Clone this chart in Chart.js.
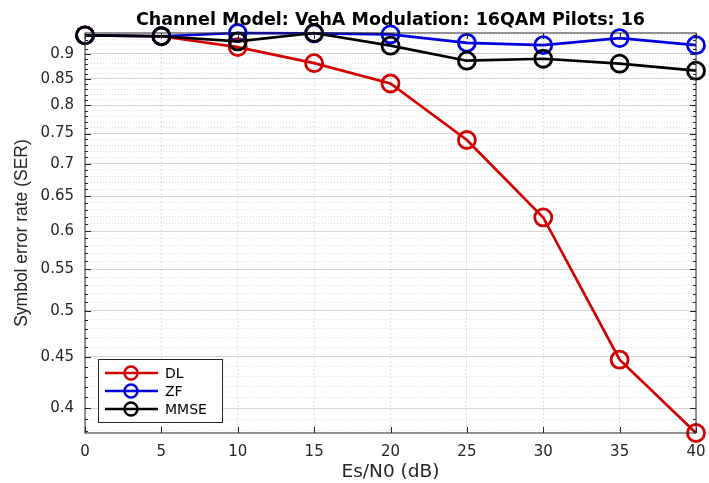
<!DOCTYPE html>
<html lang="en">
<head>
  <meta charset="UTF-8" />
  <title>SER vs Es/N0</title>
  <script src="https://cdn.jsdelivr.net/npm/chart.js"></script>
  <style>
    html, body { margin: 0; padding: 0; background: #fff; }
    #wrap { width: 709px; height: 483px; }
  </style>
</head>
<body>
  <div id="wrap"><canvas id="grafica" width="709" height="483"></canvas></div>

  <script>
    // data
    const snr = [0, 5, 10, 15, 20, 25, 30, 35, 40];
    const serDL = [0.939, 0.937, 0.914, 0.881, 0.841, 0.739, 0.619, 0.447, 0.378];
    const serZF = [0.939, 0.937, 0.944, 0.943, 0.941, 0.923, 0.918, 0.933, 0.918];
    const serMMSE = [0.939, 0.937, 0.926, 0.944, 0.917, 0.886, 0.890, 0.880, 0.866];
    const yTickLabels = [0.4, 0.45, 0.5, 0.55, 0.6, 0.65, 0.7, 0.75, 0.8, 0.85, 0.9];
    const xTickLabels = [0, 5, 10, 15, 20, 25, 30, 35, 40];
    const yMin = 0.378, yMax = 0.944;
    const titulo = 'Channel Model: VehA Modulation: 16QAM Pilots: 16';

    // the picture is a bit stretched sideways, DejaVu's wider glyphs get close
    const fontAncha = "'DejaVu Sans', sans-serif";
    const fontName = "'Liberation Sans', Arial, sans-serif";

    // minor grid every 0.01 like matlab's log axis
    const yMinor = [];
    for (let v = 38; v <= 94; v++) yMinor.push(v / 100);
    const esMayor = v => yTickLabels.some(t => Math.abs(t - v) < 1e-6);

    const puntos = arr => snr.map((x, i) => ({ x, y: arr[i] }));

    function serie(label, arr, color, order) {
      return {
        label, data: puntos(arr), order,
        borderColor: color, backgroundColor: 'transparent',
        pointBorderColor: color, pointBackgroundColor: 'transparent',
        borderWidth: 2.7, pointRadius: 8.5, pointBorderWidth: 2.8,
        pointHoverRadius: 8.5, clip: false, tension: 0
      };
    }

    // box, inner ticks, title over the axes and legend, matlab style
    const marco = {
      id: 'marco',
      afterDatasetsDraw(chart) {
        const { ctx, chartArea: a, scales } = chart;
        ctx.save();
        ctx.strokeStyle = '#262626';
        ctx.lineWidth = 1;
        ctx.strokeRect(a.left, a.top, a.right - a.left, a.bottom - a.top);
        ctx.beginPath();
        scales.x.ticks.forEach(t => {
          const px = Math.round(scales.x.getPixelForValue(t.value)) + 0.5;
          ctx.moveTo(px, a.bottom); ctx.lineTo(px, a.bottom - 6);
          ctx.moveTo(px, a.top); ctx.lineTo(px, a.top + 6);
        });
        scales.y.ticks.forEach(t => {
          const py = Math.round(scales.y.getPixelForValue(t.value)) + 0.5;
          const len = esMayor(t.value) ? 6 : 3;
          ctx.moveTo(a.left, py); ctx.lineTo(a.left + len, py);
          ctx.moveTo(a.right, py); ctx.lineTo(a.right - len, py);
        });
        ctx.stroke();

        ctx.fillStyle = '#000';
        ctx.font = 'bold 17.5px ' + fontAncha;
        ctx.textAlign = 'center';
        ctx.textBaseline = 'middle';
        ctx.fillText(titulo, (a.left + a.right) / 2, a.top - 13);

        // legend lower-left
        const lx = a.left + 13, ly = a.bottom - 74, lw = 124, lh = 63;
        ctx.fillStyle = '#fff';
        ctx.fillRect(lx, ly, lw, lh);
        ctx.strokeStyle = '#262626';
        ctx.strokeRect(lx + 0.5, ly + 0.5, lw, lh);
        ctx.font = '14px ' + fontAncha;
        ctx.textAlign = 'left';
        chart.data.datasets.forEach((ds, i) => {
          const cy = ly + 14 + i * 18;
          ctx.strokeStyle = ds.borderColor;
          ctx.lineWidth = 2.4;
          ctx.beginPath();
          ctx.moveTo(lx + 7, cy); ctx.lineTo(lx + 60, cy);
          ctx.stroke();
          ctx.beginPath();
          ctx.arc(lx + 33, cy, 6.5, 0, Math.PI * 2);
          ctx.stroke();
          ctx.fillStyle = '#000';
          ctx.fillText(ds.label, lx + 67, cy + 1);
        });
        ctx.restore();
      }
    };

    new Chart(document.getElementById('grafica'), {
      type: 'line',
      data: {
        datasets: [
          serie('DL', serDL, '#d20000', 3),
          serie('ZF', serZF, '#0000e0', 2),
          serie('MMSE', serMMSE, '#000000', 1)
        ]
      },
      options: {
        responsive: false,
        animation: false,
        events: [],
        layout: { padding: { left: 0, right: 13, top: 33, bottom: 0 } },
        plugins: {
          legend: { display: false },
          tooltip: { enabled: false },
          title: { display: false }
        },
        scales: {
          x: {
            type: 'linear',
            min: 0, max: 40,
            afterBuildTicks: s => { s.ticks = xTickLabels.map(v => ({ value: v })); },
            afterFit: s => { s.height = 50; s.paddingRight = 0; s.paddingLeft = 0; },
            ticks: {
              color: '#262626', padding: 10,
              font: { family: fontAncha, size: 15 },
              maxRotation: 0
            },
            grid: { color: 'rgba(0,0,0,0.13)', lineWidth: 1, drawTicks: false },
            border: { display: false, dash: [2, 2] },
            title: {
              display: true, text: 'Es/N0 (dB)', color: '#262626',
              font: { family: fontAncha, size: 18.5 },
              padding: { top: 0, bottom: 0 }
            }
          },
          y: {
            type: 'logarithmic',
            min: yMin, max: yMax,
            afterBuildTicks: s => { s.ticks = yMinor.map(v => ({ value: v })); },
            afterFit: s => { s.width = 85; s.paddingTop = 0; s.paddingBottom = 0; },
            ticks: {
              color: '#262626', padding: 11, autoSkip: false,
              font: { family: fontAncha, size: 15 },
              callback: v => esMayor(v) ? String(Math.round(v * 100) / 100) : ''
            },
            grid: {
              drawTicks: false,
              lineWidth: 1,
              color: c => esMayor(c.tick.value) ? 'rgba(0,0,0,0.16)' : 'rgba(0,0,0,0.12)'
            },
            border: {
              display: false,
              dash: c => (c.tick && esMayor(c.tick.value)) ? [] : [1, 2]
            },
            title: {
              display: true, text: 'Symbol error rate (SER)', color: '#262626',
              font: { family: fontName, size: 17.5 },
              padding: { top: 12, bottom: 0 }
            }
          }
        }
      },
      plugins: [marco]
    });
  </script>
</body>
</html>
